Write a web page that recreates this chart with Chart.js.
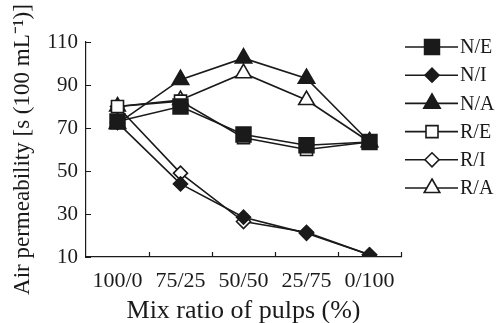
<!DOCTYPE html>
<html>
<head>
<meta charset="utf-8">
<script src="https://cdn.jsdelivr.net/npm/chart.js@4/dist/chart.umd.min.js"></script>
<style>
html,body{margin:0;padding:0;background:#fff;}
#wrap{width:500px;height:323px;position:relative;}
</style>
</head>
<body>
<div id="wrap"><canvas id="c" width="500" height="323"></canvas></div>
<script>
const categories = ['100/0', '75/25', '50/50', '25/75', '0/100'];
const seriesNames = ['N/E', 'N/I', 'N/A', 'R/E', 'R/I', 'R/A'];
const valuesNE = [73, 80, 67, 62, 63.5];
const valuesNI = [72.5, 44, 28.5, 21, 11];
const valuesNA = [72, 92.5, 102.5, 93, 63.5];
const valuesRE = [80, 82.5, 65.5, 60, 63.5];
const valuesRI = [80, 49, 26.5, 21.5, 11];
const valuesRA = [80, 83, 95.5, 83, 63.5];
const yTicks = [10, 30, 50, 70, 90, 110];

const INK = '#1a1a1a';
const FONT = "'Liberation Serif', 'Times New Roman', serif";

const styles = [
  {pointStyle: 'rect', radius: 10.5, fill: INK},
  {pointStyle: 'rectRot', radius: 7, fill: INK},
  {pointStyle: 'triangle', radius: 9.5, fill: INK},
  {pointStyle: 'rect', radius: 8.5, fill: '#fff'},
  {pointStyle: 'rectRot', radius: 7, fill: '#fff'},
  {pointStyle: 'triangle', radius: 9, fill: '#fff'}
];
const drawOrder = [-1, 0, 0, 0, 0, 0];
const allValues = [valuesNE, valuesNI, valuesNA, valuesRE, valuesRI, valuesRA];

const datasets = allValues.map((vals, i) => ({
  label: seriesNames[i],
  data: vals,
  order: drawOrder[i],
  borderColor: INK,
  borderWidth: 1.6,
  backgroundColor: styles[i].fill,
  pointStyle: styles[i].pointStyle,
  pointRadius: styles[i].radius,
  pointHoverRadius: styles[i].radius,
  pointBorderWidth: 1.6,
  pointBorderColor: INK,
  pointBackgroundColor: styles[i].fill,
  tension: 0,
  fill: false
}));

const inwardTicks = {
  id: 'inwardTicks',
  afterDraw(chart) {
    const ctx = chart.ctx;
    const ca = chart.chartArea;
    const xs = chart.scales.x, ys = chart.scales.y;
    ctx.save();
    ctx.strokeStyle = INK;
    ctx.lineWidth = 1.2;
    ctx.beginPath();
    yTicks.forEach(v => {
      const y = Math.round(ys.getPixelForValue(v)) + 0.5;
      ctx.moveTo(ca.left, y);
      ctx.lineTo(ca.left + 5, y);
    });
    for (let i = 0; i < categories.length; i++) {
      let x;
      if (i < categories.length - 1) {
        x = (xs.getPixelForValue(i) + xs.getPixelForValue(i + 1)) / 2;
      } else {
        x = ca.right;
      }
      x = Math.round(x) + 0.5;
      ctx.moveTo(x, ca.bottom);
      ctx.lineTo(x, ca.bottom - 5);
    }
    ctx.stroke();
    ctx.restore();
  }
};

const customLegend = {
  id: 'customLegend',
  afterDraw(chart) {
    const ctx = chart.ctx;
    ctx.save();
    chart.data.datasets.forEach((ds, i) => {
      const y = 47 + i * 28.2;
      ctx.strokeStyle = INK;
      ctx.lineWidth = 1.6;
      ctx.beginPath();
      ctx.moveTo(405, y);
      ctx.lineTo(458, y);
      ctx.stroke();
      ctx.fillStyle = ds.pointBackgroundColor;
      ctx.strokeStyle = INK;
      ctx.lineWidth = 1.6;
      Chart.helpers.drawPoint(ctx, {
        pointStyle: ds.pointStyle,
        radius: ds.pointRadius,
        rotation: 0,
        borderWidth: 1.6
      }, 432, y);
      ctx.fillStyle = INK;
      ctx.font = '20px ' + FONT;
      ctx.textBaseline = 'middle';
      ctx.textAlign = 'left';
      ctx.fillText(ds.label, 460, y + 1);
    });
    ctx.restore();
  }
};

new Chart(document.getElementById('c'), {
  type: 'line',
  data: {labels: categories, datasets: datasets},
  options: {
    responsive: false,
    animation: false,
    layout: {padding: {left: 9, right: 99, top: 42, bottom: 0}},
    plugins: {legend: {display: false}, tooltip: {enabled: false}},
    scales: {
      x: {
        type: 'category',
        offset: true,
        grid: {display: false, drawTicks: false},
        border: {display: true, color: INK, width: 1.2},
        ticks: {color: INK, font: {family: FONT, size: 22}, padding: 11, maxRotation: 0, autoSkip: false},
        title: {display: true, text: 'Mix ratio of pulps (%)', color: INK, font: {family: FONT, size: 26}, padding: {top: 0, bottom: -4}},
        afterFit: s => { s.height = 323 - 257; }
      },
      y: {
        min: 10, max: 110,
        afterBuildTicks: s => { s.ticks = yTicks.map(v => ({value: v})); },
        grid: {display: false, drawTicks: false},
        border: {display: true, color: INK, width: 1.2},
        ticks: {color: INK, font: {family: FONT, size: 21}, padding: 8},
        title: {display: true, text: 'Air permeability [s (100 mL\u207B\u00B9)]', color: INK, font: {family: FONT, size: 23}, padding: {top: 0, bottom: 0}},
        afterFit: s => { s.width = 86 - 9; }
      }
    }
  },
  plugins: [inwardTicks, customLegend]
});
</script>
</body>
</html>
